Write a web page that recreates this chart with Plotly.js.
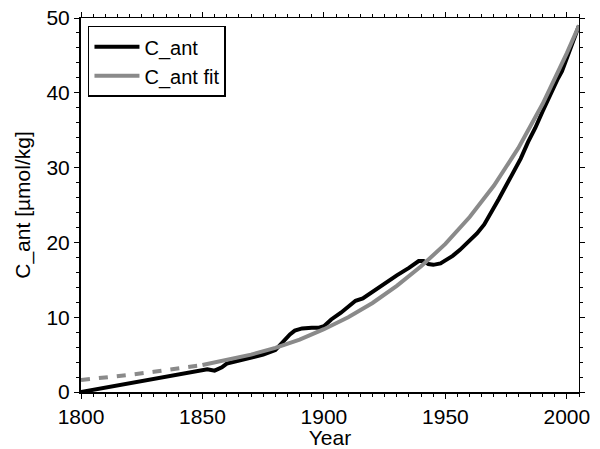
<!DOCTYPE html>
<html>
<head>
<meta charset="utf-8">
<script src="https://cdn.plot.ly/plotly-3.0.1.min.js"></script>
<style>
  html, body { margin: 0; padding: 0; background: #fff; }
  #chart { width: 600px; height: 449px; }
</style>
</head>
<body>
<div id="chart"></div>
<script>
// Anthropogenic carbon record (black) and its exponential fit (grey)
const cantYears = [1800, 1810, 1820, 1830, 1840, 1850, 1852, 1855, 1858, 1860, 1865, 1870, 1875, 1880,
  1883, 1886, 1888, 1891, 1895, 1898, 1900, 1903, 1907, 1910, 1913, 1916, 1920, 1925, 1930, 1935,
  1939, 1941, 1943, 1945, 1948, 1950, 1953, 1956, 1960, 1963, 1966, 1969, 1972, 1975, 1978, 1981,
  1984, 1987, 1990, 1993, 1996, 1998, 2001, 2003, 2005];
const cantValues = [0, 0.6, 1.2, 1.8, 2.4, 3.0, 3.05, 2.85, 3.3, 3.8, 4.2, 4.6, 5.0, 5.6,
  6.7, 7.7, 8.2, 8.5, 8.6, 8.6, 8.8, 9.7, 10.6, 11.4, 12.2, 12.5, 13.4, 14.4, 15.6, 16.6,
  17.5, 17.5, 17.1, 17.0, 17.2, 17.6, 18.2, 19.0, 20.2, 21.2, 22.4, 24.0, 25.8, 27.6, 29.3, 31.2,
  33.4, 35.3, 37.5, 39.7, 41.7, 42.9, 45.4, 47.0, 49.0];

// Fit extrapolated back before 1850 (dashed) and over the data period (solid)
const fitEarlyYears = [1800, 1810, 1820, 1830, 1840, 1850];
const fitEarlyValues = [1.6, 1.9, 2.3, 2.7, 3.1, 3.6];
const fitYears = [1850, 1860, 1870, 1880, 1890, 1900, 1910, 1920, 1930, 1940, 1950, 1960, 1970, 1980, 1990, 2000, 2005];
const fitValues = [3.6, 4.3, 5.0, 5.9, 7.0, 8.4, 10.0, 11.9, 14.2, 16.8, 19.8, 23.4, 27.6, 32.6, 38.5, 45.3, 49.0];

const xTicks = [1800, 1850, 1900, 1950, 2000];
const yTicks = [0, 10, 20, 30, 40, 50];

const FONT = 'Liberation Sans, Arial, Helvetica, sans-serif';
const GREY = '#8a8a8a';

const traces = [
  { x: cantYears, y: cantValues, name: 'C_ant', type: 'scatter', mode: 'lines',
    line: { color: '#000', width: 4 } },
  { x: fitYears, y: fitValues, name: 'C_ant fit', type: 'scatter', mode: 'lines',
    line: { color: GREY, width: 4 } },
  { x: fitEarlyYears, y: fitEarlyValues, name: 'C_ant fit (extrapolated)', type: 'scatter', mode: 'lines',
    showlegend: false, line: { color: GREY, width: 4, dash: '9px,9px' } },
  // invisible carrier so the framing top/right axes get drawn
  { x: cantYears, y: cantValues, xaxis: 'x2', yaxis: 'y2', type: 'scatter', mode: 'lines',
    showlegend: false, hoverinfo: 'skip', opacity: 0, line: { width: 0 } }
];

const xCommon = { range: [1800, 2005], tickmode: 'array', tickvals: xTicks, ticks: 'outside', ticklen: 5,
  tickcolor: '#000', tickwidth: 1, showgrid: false, zeroline: false,
  minor: { tickmode: 'linear', dtick: 5, tick0: 1800, ticks: 'outside', ticklen: 3, tickcolor: '#000', showgrid: false } };
const yCommon = { range: [0, 50], tickmode: 'array', tickvals: yTicks, ticks: 'outside', ticklen: 5,
  tickcolor: '#000', tickwidth: 1, showgrid: false, zeroline: false,
  minor: { tickmode: 'linear', dtick: 2, tick0: 0, ticks: 'outside', ticklen: 3, tickcolor: '#000', showgrid: false } };

const layout = {
  width: 600, height: 449,
  margin: { l: 81, r: 21, t: 18, b: 57 },
  paper_bgcolor: '#fff', plot_bgcolor: '#fff',
  font: { family: FONT, size: 21, color: '#000' },
  showlegend: true,
  legend: { x: 0.014, y: 0.979, xanchor: 'left', yanchor: 'top',
    bgcolor: '#fff', bordercolor: '#000', borderwidth: 1.5, tracegroupgap: 0,
    font: { family: FONT, size: 20, color: '#000' }, itemwidth: 45 },
  xaxis: Object.assign({}, xCommon, {
    showline: true, linecolor: '#000', linewidth: 2,
    title: { text: 'Year', font: { family: FONT, size: 21 }, standoff: 2 } }),
  yaxis: Object.assign({}, yCommon, {
    showline: true, linecolor: '#000', linewidth: 2,
    title: { text: 'C_ant [µmol/kg]', font: { family: FONT, size: 21 }, standoff: 10 } }),
  xaxis2: Object.assign({}, xCommon, { overlaying: 'x', side: 'top', anchor: 'y2',
    showline: true, linecolor: '#000', linewidth: 1, showticklabels: false }),
  yaxis2: Object.assign({}, yCommon, { overlaying: 'y', side: 'right', anchor: 'x2',
    showline: true, linecolor: '#000', linewidth: 1, showticklabels: false })
};

Plotly.newPlot('chart', traces, layout, { displayModeBar: false, staticPlot: true });
</script>
</body>
</html>
